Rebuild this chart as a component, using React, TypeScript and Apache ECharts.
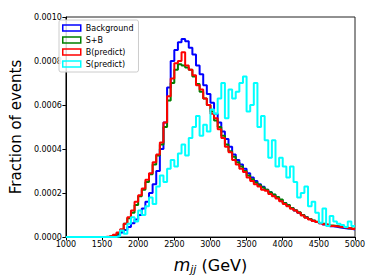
import React, { useEffect, useRef } from "react";
import * as echarts from "echarts";

// Bin left edges (GeV), 50 GeV bins from 1000 to 5000
const binStart = 1000;
const binWidth = 50;

// Values are in fraction of events
const background = [
  0, 0, 0, 0, 0, 0, 0, 0, 0, 0, 0, 0,
  0.000002, 0.000005, 0.00001, 0.00002, 0.000032, 0.000045, 0.000062, 0.00008,
  0.0001, 0.00013, 0.00016, 0.0002, 0.00024, 0.0003, 0.0004, 0.00052,
  0.00068, 0.0008, 0.00085, 0.000885, 0.0009, 0.00089, 0.00086, 0.00083,
  0.00078, 0.00074, 0.00069, 0.00065, 0.00061, 0.00056, 0.00052, 0.00048,
  0.000445, 0.00041, 0.000375, 0.00035, 0.00033, 0.00031, 0.00029, 0.00027,
  0.000255, 0.00024, 0.000228, 0.000215, 0.000203, 0.000192, 0.00018, 0.000168,
  0.000155, 0.000143, 0.000132, 0.00012, 0.00011, 0.0001, 0.00009, 0.000082,
  0.000074, 0.000068, 0.000062, 0.000057, 0.000053, 0.000049, 0.000046, 0.000043,
  0.000041, 0.000039, 0.000037, 0.000034,
];

const signalPlusBackground = [
  0, 0, 0, 0, 0, 0, 0, 0, 0, 0, 0, 0.000001,
  0.000003, 0.000008, 0.000015, 0.00003, 0.00006, 0.000085, 0.00011, 0.000145,
  0.000185, 0.000215, 0.00025, 0.000285, 0.00033, 0.00037, 0.00042, 0.0005,
  0.00062, 0.0007, 0.00076, 0.000785, 0.00078, 0.00077, 0.00076, 0.00073,
  0.000695, 0.00066, 0.00063, 0.0006, 0.00057, 0.00053, 0.0005, 0.00046,
  0.00042, 0.00039, 0.000365, 0.00034, 0.00032, 0.0003, 0.00028, 0.000262,
  0.000248, 0.000236, 0.000225, 0.000215, 0.000203, 0.000193, 0.000182, 0.00017,
  0.000155, 0.000145, 0.000132, 0.000122, 0.000112, 0.0001, 0.00009, 0.000082,
  0.000075, 0.000069, 0.000064, 0.00006, 0.000056, 0.000052, 0.00005, 0.000048,
  0.000046, 0.000044, 0.00004, 0.000037,
];

const bPredict = [
  0, 0, 0, 0, 0, 0, 0, 0, 0, 0, 0, 0.000002,
  0.000005, 0.00001, 0.00002, 0.000035, 0.00006, 0.00009, 0.00012, 0.00016,
  0.00019, 0.00022, 0.00026, 0.00029, 0.00034, 0.000375, 0.00043, 0.00052,
  0.00064, 0.00072, 0.00079, 0.0008, 0.00084, 0.00078, 0.00076, 0.000735,
  0.00069, 0.00067, 0.00063, 0.0006, 0.00056, 0.00054, 0.00049, 0.00045,
  0.00041, 0.000385, 0.00035, 0.00033, 0.00031, 0.000295, 0.00027, 0.000255,
  0.00024, 0.00023, 0.000215, 0.00021, 0.000195, 0.000185, 0.000175, 0.000162,
  0.00015, 0.00014, 0.000128, 0.00012, 0.00011, 0.000098, 0.000088, 0.00008,
  0.000073, 0.000068, 0.000062, 0.000058, 0.000055, 0.00005, 0.000049, 0.000047,
  0.000044, 0.000042, 0.00004, 0.000036,
];

const sPredict = [
  0, 0, 0, 0, 0, 0, 0, 0, 0, 0, 0, 0,
  0, 0, 0.000003, 0.00003, 0.000015, 0.00006, 0.00009, 0.00007,
  0.00012, 0.0001, 0.00014, 0.00018, 0.00015, 0.00023, 0.00028, 0.00025,
  0.00031, 0.00035, 0.00032, 0.00038, 0.00042, 0.00037, 0.00045, 0.0005,
  0.00055, 0.00046, 0.00051, 0.00048, 0.00058, 0.00056, 0.00063, 0.0007,
  0.00054, 0.00067, 0.00063, 0.00066, 0.0007, 0.00073, 0.00057, 0.0006,
  0.0007, 0.0005, 0.00055, 0.00044, 0.00036, 0.00044, 0.00032, 0.00036,
  0.00032, 0.00027, 0.00032, 0.00025, 0.00018, 0.0002, 0.00023, 0.00014,
  0.00016, 0.00011, 0.000065, 0.00013, 0.00005, 0.000095, 0.00007, 0.00006,
  0.000055, 0.000045, 0.00007, 0.00005,
];

const seriesNames = ["Background", "S+B", "B(predict)", "S(predict)"];
const seriesColors = ["#0000ff", "#008000", "#ff0000", "#00ffff"];
const seriesValues = [background, signalPlusBackground, bPredict, sPredict];

const xTicks = [1000, 1500, 2000, 2500, 3000, 3500, 4000, 4500, 5000];
const yTicks = [0, 0.0002, 0.0004, 0.0006, 0.0008, 0.001];

// histogram outline: each bin held flat from its left edge to its right edge
function toSteps(values: number[]): [number, number][] {
  const pts: [number, number][] = [];
  values.forEach((v, i) => {
    const x0 = binStart + i * binWidth;
    pts.push([x0, v]);
    pts.push([x0 + binWidth, v]);
  });
  return pts;
}

export default function App() {
  const ref = useRef<HTMLDivElement>(null);
  useEffect(() => {
    if (!ref.current) return;
    const chart = echarts.init(ref.current, undefined, { renderer: "svg" });
    const font = "DejaVu Sans";
    chart.setOption({
      animation: false,
      backgroundColor: "#ffffff",
      textStyle: { fontFamily: font },
      grid: {
        left: 56,
        right: 19,
        top: 17,
        bottom: 39,
        show: true,
        borderColor: "#222",
        borderWidth: 1,
        backgroundColor: "transparent",
      },
      legend: {
        show: true,
        orient: "vertical",
        left: 59,
        top: 20,
        selectedMode: false,
        icon: "rect",
        itemWidth: 18,
        itemHeight: 6,
        itemGap: 2,
        padding: [3, 5, 3, 3],
        backgroundColor: "rgba(255,255,255,0.85)",
        borderColor: "#cccccc",
        borderWidth: 1,
        borderRadius: 2,
        textStyle: { fontFamily: font, fontSize: 8, color: "#000", lineHeight: 10 },
        data: seriesNames.map((n, i) => ({
          name: n,
          icon: "rect",
          itemStyle: {
            color: "rgba(255,255,255,0)",
            borderColor: seriesColors[i],
            borderWidth: 1.5,
          },
        })),
      },
      xAxis: {
        type: "value",
        min: xTicks[0],
        max: xTicks[xTicks.length - 1],
        interval: 500,
        name: "{m|m}{s|jj}{n| (GeV)}",
        nameLocation: "middle",
        nameGap: 18,
        nameTextStyle: {
          fontFamily: font,
          fontSize: 16,
          color: "#000",
          rich: {
            m: { fontFamily: font, fontSize: 17, fontStyle: "italic", color: "#000" },
            s: {
              fontFamily: font,
              fontSize: 11,
              fontStyle: "italic",
              color: "#000",
              padding: [9, 0, 0, 0],
            },
            n: { fontFamily: font, fontSize: 16, color: "#000" },
          },
        },
        axisLine: { show: true, onZero: false, lineStyle: { color: "#000", width: 1 } },
        axisTick: { show: true, length: 3.5, lineStyle: { color: "#000" } },
        axisLabel: {
          fontFamily: font,
          fontSize: 8,
          color: "#000",
          margin: 3,
          formatter: (v: number) => String(Math.round(v)),
        },
        splitLine: { show: false },
      },
      yAxis: {
        type: "value",
        min: 0,
        max: 0.001,
        interval: 0.0002,
        name: "Fraction of events",
        nameLocation: "middle",
        nameGap: 39,
        nameTextStyle: { fontFamily: font, fontSize: 15, color: "#000" },
        axisLine: { show: true, lineStyle: { color: "#000", width: 1 } },
        axisTick: { show: true, length: 3.5, lineStyle: { color: "#000" } },
        axisLabel: {
          fontFamily: font,
          fontSize: 8,
          color: "#000",
          margin: 4,
          formatter: (v: number) => {
            const t = yTicks.find((k) => Math.abs(k - v) < 1e-9);
            return (t !== undefined ? t : v).toFixed(4);
          },
        },
        splitLine: { show: false },
      },
      series: seriesNames.map((n, i) => ({
        name: n,
        type: "line",
        showSymbol: false,
        symbol: "none",
        data: toSteps(seriesValues[i]),
        lineStyle: { color: seriesColors[i], width: 2 },
        itemStyle: { color: seriesColors[i] },
        z: 2 + i,
      })),
    });
    return () => chart.dispose();
  }, []);
  return (
    <div
      ref={ref}
      style={{ width: 374, height: 280, position: "absolute", left: 0, top: 0 }}
    />
  );
}
